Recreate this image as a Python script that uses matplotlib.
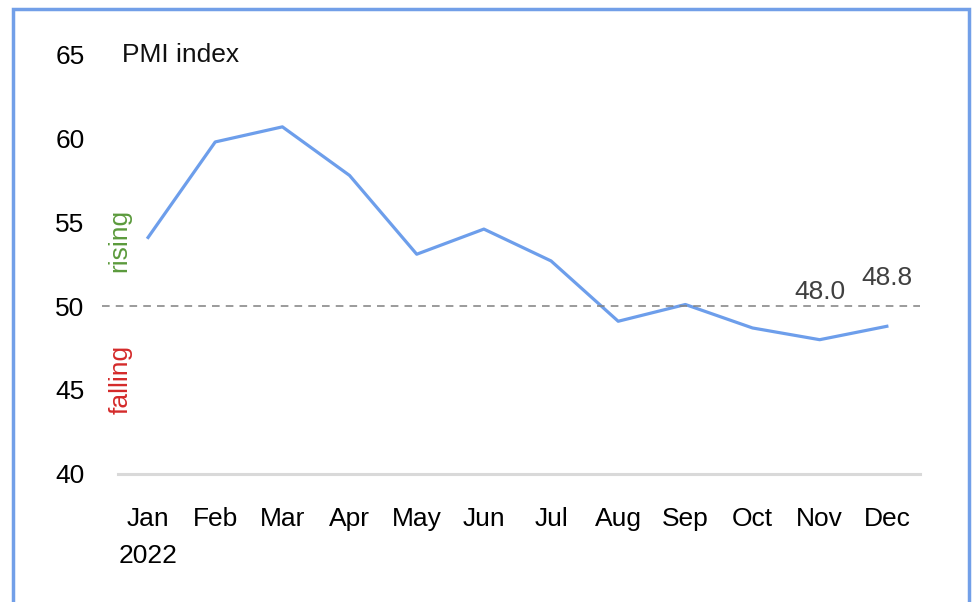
import matplotlib.pyplot as plt
from matplotlib.patches import Rectangle

months = ["Jan\n2022", "Feb", "Mar", "Apr", "May", "Jun", "Jul", "Aug", "Sep", "Oct", "Nov", "Dec"]
pmi = [54.1, 59.8, 60.7, 57.8, 53.1, 54.6, 52.7, 49.1, 50.1, 48.7, 48.0, 48.8]
labelled = [10, 11]
yticks = [40, 45, 50, 55, 60, 65]

plt.rcParams['font.family'] = ['Liberation Sans Narrow', 'Liberation Sans', 'DejaVu Sans']

fig = plt.figure(figsize=(9.74, 6.02), dpi=100)
ax = fig.add_axes([0.121, 0.213, 0.824, 0.696])

x = list(range(len(pmi)))
ax.plot(x, pmi, color='#6d9eeb', lw=2.3, solid_joinstyle='round')
ax.axhline(50, xmin=-0.02, xmax=1.0, color='#808080', lw=1.1, ls=(0, (5, 4)), clip_on=False)

for i in labelled:
    ax.annotate(f"{pmi[i]:.1f}", (i, pmi[i]), xytext=(0, 26), textcoords='offset points',
                ha='center', va='bottom', fontsize=19, color='#404040')

ax.set_xlim(-0.45, 11.5)
ax.set_ylim(40, 65)
ax.set_xticks(x)
ax.set_xticklabels(months, fontsize=19, linespacing=1.7, va='top')
ax.set_yticks(yticks)
ax.set_yticklabels([str(v) for v in yticks], fontsize=19)
ax.tick_params(axis='both', length=0)
ax.tick_params(axis='y', pad=24)
ax.tick_params(axis='x', pad=24)

for s in ['left', 'right', 'top']:
    ax.spines[s].set_visible(False)
ax.spines['bottom'].set_color('#d9d9d9')
ax.spines['bottom'].set_linewidth(2.2)

ax.text(0.005, 65, "PMI index", transform=ax.get_yaxis_transform(), fontsize=19,
        ha='left', va='center', color='#111111')
ax.text(0.002, 53.9, "rising", transform=ax.get_yaxis_transform(), rotation=90,
        fontsize=19, color='#5b9a3c', ha='center', va='center')
ax.text(0.004, 45.6, "falling", transform=ax.get_yaxis_transform(), rotation=90,
        fontsize=19, color='#d42a2a', ha='center', va='center')

fig.patches.append(Rectangle((13 / 974, -0.05), (969 - 13) / 974, 1.05 - 9 / 602,
                             transform=fig.transFigure, fill=False,
                             edgecolor='#729fe8', lw=2.5))

fig.savefig('out.png', dpi=100)
